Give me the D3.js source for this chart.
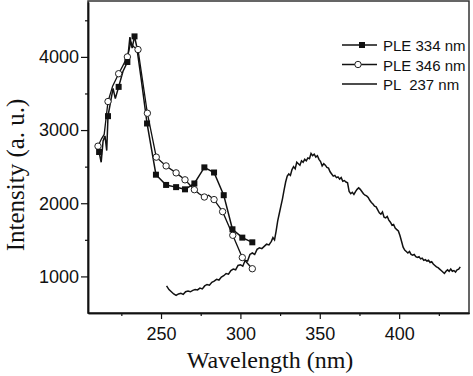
<!DOCTYPE html>
<html>
<head>
<meta charset="utf-8">
<script src="https://cdn.jsdelivr.net/npm/d3@7"></script>
<style>
  body { margin: 0; background: #fff; }
  svg { display: block; }
</style>
</head>
<body>
<script>
const width = 473;
const height = 376;
const margin = {top: 2, right: 4, bottom: 63, left: 88};

// [wavelength, intensity, marker?]
const ple334 = [
  [211, 2700, 1], [212.3, 2560, 0], [213.5, 2850, 0], [214.7, 2920, 0], [215.8, 2720, 0],
  [216.6, 3190, 1], [218.5, 3420, 0], [219.8, 3570, 0], [221.2, 3430, 0], [223.3, 3590, 1],
  [226, 3800, 0], [228.8, 3930, 1], [230.4, 4270, 0], [231.8, 4120, 0], [233.3, 4280, 1],
  [234.6, 4150, 0], [237.5, 3700, 0], [241.2, 3090, 1], [246.8, 2390, 1], [253.2, 2250, 1],
  [259.5, 2220, 1], [265.1, 2190, 1], [271, 2270, 1], [277.3, 2490, 1], [283.4, 2420, 1],
  [289.5, 2110, 1], [295, 1644, 1], [301.2, 1530, 1], [307.5, 1466, 1]
];

const ple346 = [
  [210.3, 2780, 1], [212.5, 2880, 0], [214.2, 2940, 0], [216.6, 3390, 1], [219.5, 3600, 0],
  [223.3, 3770, 1], [226, 3880, 0], [228.8, 4000, 1], [231, 4200, 0], [232.6, 4140, 0],
  [235.5, 4100, 1], [241.4, 3230, 1], [247, 2630, 1], [253.2, 2510, 1], [259.5, 2415, 1],
  [265.1, 2320, 1], [271, 2185, 1], [274, 2130, 0], [277.3, 2085, 1], [280, 2110, 0],
  [283.4, 2050, 1], [288.8, 1885, 1], [295.2, 1562, 1], [301.2, 1258, 1], [307.5, 1105, 1]
];

const pl237 = [
  [253.5, 870], [255, 820], [256.5, 790], [258, 760], [259.5, 740], [261, 760], [262.5, 770],
  [264, 755], [265.5, 790], [267, 800], [268.5, 790], [270, 810], [271.5, 820], [273, 815],
  [274.5, 840], [276, 830], [277.5, 870], [279, 890], [280.5, 880], [282, 920], [283.5, 935],
  [285, 960], [286.5, 950], [288, 990], [289.5, 1010], [291, 1040], [292.5, 1030], [294, 1080],
  [295.5, 1100], [297, 1090], [298.5, 1150], [300, 1160], [301.5, 1140], [303, 1220],
  [304.5, 1210], [306, 1300], [307.5, 1320], [309, 1300], [310.5, 1370], [312, 1390],
  [313.5, 1380], [315, 1410], [316.5, 1440], [318, 1430], [319.5, 1480], [320.5, 1530],
  [321.5, 1500], [322.5, 1620], [323.5, 1760], [324.5, 1860], [325.5, 1960], [326.5, 2060],
  [327.5, 2180], [328.5, 2290], [329.5, 2370], [330.5, 2400], [331.5, 2380], [332.5, 2460],
  [333.5, 2500], [334.5, 2470], [335.5, 2560], [336.5, 2540], [337.5, 2520], [338.5, 2580],
  [339.5, 2560], [340.5, 2600], [341.5, 2580], [342.5, 2620], [343.5, 2610], [344.5, 2680],
  [345.5, 2650], [346.5, 2670], [347.5, 2630], [348.5, 2650], [349.5, 2600], [350.5, 2570],
  [351.5, 2510], [352.5, 2540], [353.5, 2520], [354.5, 2490], [355.5, 2480], [356.5, 2430],
  [357.5, 2400], [358.5, 2370], [359.5, 2380], [360.5, 2350], [361.5, 2360], [362.5, 2330],
  [363.5, 2350], [364.5, 2300], [365.5, 2310], [366.5, 2290], [367.5, 2280], [368.5, 2160],
  [369.5, 2130], [370.5, 2150], [371.5, 2120], [372.5, 2160], [373.5, 2190], [374.5, 2210],
  [375.5, 2190], [376.5, 2160], [377.5, 2130], [378.5, 2110], [379.5, 2100], [380.5, 2080],
  [381.5, 2040], [382.5, 2010], [383.5, 1990], [384.5, 1960], [385.5, 1950], [386.5, 1910],
  [387.5, 1870], [388.5, 1850], [389.5, 1880], [390.5, 1810], [391.5, 1800], [392.5, 1820],
  [393.5, 1770], [394.5, 1740], [395.5, 1700], [396.5, 1710], [397.5, 1660], [398.5, 1640],
  [399.5, 1620], [400.5, 1560], [401.5, 1480], [402.5, 1400], [403.5, 1360], [404.5, 1340],
  [405.5, 1320], [406.5, 1340], [407.5, 1300], [408.5, 1290], [409.5, 1300], [410.5, 1270],
  [411.5, 1260], [412.5, 1270], [413.5, 1240], [414.5, 1250], [415.5, 1220], [416.5, 1230],
  [417.5, 1210], [418.5, 1220], [419.5, 1190], [420.5, 1200], [421.5, 1170], [422.5, 1150],
  [423.5, 1130], [424.5, 1120], [425.5, 1100], [426.5, 1080], [427.5, 1060], [428.5, 1040],
  [429.5, 1070], [430.5, 1090], [431.5, 1070], [432.5, 1100], [433.5, 1070], [434.5, 1080],
  [435.5, 1060], [436.5, 1090], [437.5, 1100], [438.5, 1130]
];

const xMajor = [250, 300, 350, 400];
const xMinor = [225, 275, 325, 375, 425];
const yMajor = [1000, 2000, 3000, 4000];
const yMinor = [1500, 2500, 3500, 4500];
const legendLabels = ["PLE 334 nm", "PLE 346 nm", "PL  237 nm"];

const x = d3.scaleLinear().domain([204, 444]).range([margin.left, width - margin.right]);
const y = d3.scaleLinear().domain([500, 4750]).range([height - margin.bottom, margin.top]);

const svg = d3.select("body").append("svg")
    .attr("width", width)
    .attr("height", height);

const sans = "Arial, 'Liberation Sans', sans-serif";
const serif = "'Times New Roman', 'Liberation Serif', serif";

// frame
svg.append("rect")
    .attr("x", margin.left)
    .attr("y", margin.top - 1)
    .attr("width", width - margin.right - margin.left)
    .attr("height", height - margin.bottom - margin.top + 1)
    .attr("fill", "none")
    .attr("stroke", "#333")
    .attr("stroke-width", 1.5);

// axes
svg.append("g")
    .attr("transform", `translate(0,${height - margin.bottom})`)
    .call(d3.axisBottom(x).tickValues(xMajor).tickSize(6).tickPadding(8).tickSizeOuter(0));
svg.append("g")
    .attr("transform", `translate(0,${height - margin.bottom})`)
    .call(d3.axisBottom(x).tickValues(xMinor).tickSize(3).tickFormat("").tickSizeOuter(0));

svg.append("g")
    .attr("transform", `translate(${margin.left},0)`)
    .call(d3.axisLeft(y).tickValues(yMajor).tickSize(7).tickPadding(2)
      .tickFormat(d3.format("d")).tickSizeOuter(0));
svg.append("g")
    .attr("transform", `translate(${margin.left},0)`)
    .call(d3.axisLeft(y).tickValues(yMinor).tickSize(3).tickFormat("").tickSizeOuter(0));

svg.selectAll(".domain").attr("stroke", "#111").attr("stroke-width", 1.5);
svg.selectAll(".tick line").attr("stroke", "#111").attr("stroke-width", 1.2);
svg.selectAll(".tick text")
    .attr("font-family", sans)
    .attr("font-size", 18)
    .attr("fill", "#111");

// axis titles
svg.append("text")
    .attr("x", 270)
    .attr("y", 368)
    .attr("text-anchor", "middle")
    .attr("font-family", serif)
    .attr("font-size", 24)
    .attr("fill", "#111")
    .text("Wavelength (nm)");

svg.append("text")
    .attr("transform", "translate(24,175) rotate(-90)")
    .attr("text-anchor", "middle")
    .attr("font-family", serif)
    .attr("font-size", 25)
    .attr("fill", "#111")
    .text("Intensity (a. u.)");

// curves
const line = d3.line()
    .x(d => x(d[0]))
    .y(d => y(d[1]));

const plot = svg.append("g");

plot.append("path")
    .datum(pl237)
    .attr("d", line)
    .attr("fill", "none")
    .attr("stroke", "#111")
    .attr("stroke-width", 1.5);

plot.append("path")
    .datum(ple346)
    .attr("d", line)
    .attr("fill", "none")
    .attr("stroke", "#111")
    .attr("stroke-width", 1.3);

plot.append("path")
    .datum(ple334)
    .attr("d", line)
    .attr("fill", "none")
    .attr("stroke", "#111")
    .attr("stroke-width", 1.5);

plot.append("g")
  .selectAll("circle")
  .data(ple346.filter(d => d[2]))
  .join("circle")
    .attr("cx", d => x(d[0]))
    .attr("cy", d => y(d[1]))
    .attr("r", 3.2)
    .attr("fill", "#fff")
    .attr("stroke", "#222")
    .attr("stroke-width", 1);

plot.append("g")
  .selectAll("rect")
  .data(ple334.filter(d => d[2]))
  .join("rect")
    .attr("x", d => x(d[0]) - 3)
    .attr("y", d => y(d[1]) - 3)
    .attr("width", 6)
    .attr("height", 6)
    .attr("fill", "#111");

// legend
const legend = svg.append("g")
  .selectAll("g")
  .data(legendLabels)
  .join("g")
    .attr("transform", (d, i) => `translate(342,${45 + i * 19.5})`);

legend.append("line")
    .attr("x1", 0)
    .attr("x2", 35)
    .attr("stroke", "#111")
    .attr("stroke-width", 1.5);

legend.filter((d, i) => i === 0).append("rect")
    .attr("x", 17)
    .attr("y", -3)
    .attr("width", 6)
    .attr("height", 6)
    .attr("fill", "#111");

legend.filter((d, i) => i === 1).append("circle")
    .attr("cx", 16)
    .attr("r", 3.2)
    .attr("fill", "#fff")
    .attr("stroke", "#222");

legend.append("text")
    .attr("x", 41)
    .attr("y", 6)
    .attr("font-family", sans)
    .attr("font-size", 15)
    .attr("fill", "#111")
    .style("white-space", "pre")
    .text(d => d);
</script>
</body>
</html>
